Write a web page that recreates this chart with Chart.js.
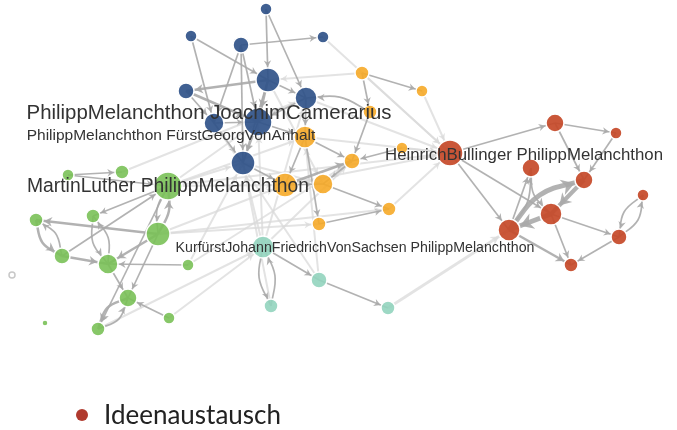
<!DOCTYPE html>
<html>
<head>
<meta charset="utf-8">
<style>
  html, body { margin: 0; padding: 0; background: #fff; }
  #wrap { width: 677px; height: 430px; }
</style>
<script src="https://cdn.jsdelivr.net/npm/chart.js@4/dist/chart.umd.min.js"></script>
</head>
<body>
<div id="wrap"><canvas id="netChart" width="677" height="430"></canvas></div>
<script>
// --- graph data (layout position of every node) ---
const nodeX = [266, 191, 323, 241, 186, 268, 306, 214, 258, 243,
               362, 422, 370, 305, 402, 352, 285, 323, 389, 319,
               450, 555, 616, 531, 584, 643, 551, 509, 619, 571,
               68, 122, 168, 36, 93, 158, 62, 108, 188, 128, 169, 98, 45,
               263, 319, 271, 388,
               12];
const nodeY = [9, 36, 37, 45, 91, 80, 98, 123, 122, 163,
               73, 91, 112, 137, 148, 161, 185, 184, 209, 224,
               153, 123, 133, 168, 180, 195, 214, 230, 237, 265,
               175, 172, 186, 220, 216, 234, 256, 264, 265, 298, 318, 329, 323,
               247, 280, 306, 308,
               275];
const nodeSize = [6, 6, 6, 8, 8, 12, 11, 10, 14, 12,
                  7, 6, 7, 11, 6, 8, 12, 10, 7, 7,
                  13, 9, 6, 9, 9, 6, 11, 11, 8, 7,
                  6, 7, 14, 7, 7, 12, 8, 10, 6, 9, 6, 7, 3,
                  11, 8, 7, 7,
                  3];
const nodeGroup = [0, 0, 0, 0, 0, 0, 0, 0, 0, 0,
                   1, 1, 1, 1, 1, 1, 1, 1, 1, 1,
                   2, 2, 2, 2, 2, 2, 2, 2, 2, 2,
                   3, 3, 3, 3, 3, 3, 3, 3, 3, 3, 3, 3, 3,
                   4, 4, 4, 4,
                   5];

// edges: [from, to, weight, bend]
const edgesInner = [
  [0, 5, 1, 0], [0, 6, 1, 0], [1, 7, 1, 0], [1, 5, 1, 0], [3, 2, 1, 0], [3, 7, 1, 0],
  [3, 8, 1, 0], [5, 4, 2, 0], [4, 7, 1, 0], [4, 8, 2, 0], [5, 8, 2, 0], [5, 6, 1, 0],
  [5, 9, 1, 0], [6, 8, 1, 0], [7, 8, 1, 0], [8, 9, 1, 0], [7, 9, 1, 0], [6, 13, 1, 0],
  [8, 13, 1, 0], [9, 16, 1, 0], [3, 9, 1, 0],
  [10, 11, 1, 0], [10, 12, 1, 0], [12, 15, 1, 0], [13, 15, 1, 0], [13, 16, 1, 0],
  [13, 19, 1, 0], [14, 15, 1, 0], [15, 17, 1, 0], [16, 15, 2, 0], [16, 17, 1, 0],
  [17, 18, 1, 0], [19, 18, 1, 0], [12, 6, 1, 8],
  [20, 21, 1, 0], [20, 27, 1, 0], [20, 26, 1, 0], [21, 22, 1, 0], [21, 24, 1, 0],
  [22, 24, 1, 0], [27, 23, 1, 0], [23, 26, 1, 8], [27, 24, 5, -12], [26, 27, 5, 0],
  [24, 26, 4, 0], [27, 23, 1, 8], [26, 28, 1, 0], [26, 29, 1, 0], [27, 29, 2, 0],
  [28, 29, 1, 0], [28, 25, 1, 8], [25, 28, 1, 8],
  [30, 31, 1, 0], [30, 32, 1, 0], [32, 35, 1, 6], [35, 32, 2, 6], [35, 33, 2, 0],
  [33, 36, 2, 8], [36, 33, 1, 8], [36, 32, 1, 0], [36, 37, 2, 0], [35, 37, 2, 0],
  [34, 37, 1, 8], [37, 34, 1, 8], [38, 37, 1, 0], [35, 39, 1, 0], [32, 41, 1, 0],
  [39, 41, 2, 8], [41, 39, 1, 8], [40, 39, 1, 0], [37, 39, 1, 0], [32, 34, 1, 0],
  [43, 45, 1, 8], [45, 43, 1, 8], [43, 44, 1, 0], [44, 46, 1, 0]
];
const edgesCross = [
  [2, 20, 1, 0], [10, 5, 1, 0], [10, 20, 1, 0], [11, 20, 1, 0], [14, 20, 1, 0],
  [18, 20, 1, 0], [13, 20, 1, 0], [16, 20, 1, 0], [32, 20, 1, 0], [32, 9, 1, 0],
  [32, 8, 1, 0], [32, 13, 1, 0], [32, 16, 1, 0], [40, 43, 1, 0], [38, 9, 1, 0],
  [35, 19, 1, 0], [43, 9, 1, 0], [43, 8, 1, 0], [43, 15, 1, 0], [44, 13, 1, 0],
  [44, 7, 1, 0], [46, 27, 2, 0], [9, 17, 1, 0], [5, 17, 1, 0], [6, 20, 1, 0],
  [41, 43, 1, 0], [35, 16, 1, 0], [31, 6, 1, 0], [43, 6, 1, 0], [45, 9, 1, 0],
  [38, 15, 1, 0], [35, 18, 1, 0]
];

const labelText = [
  'PhilippMelanchthon JoachimCamerarius',
  'PhilippMelanchthon FürstGeorgVonAnhalt',
  'MartinLuther PhilippMelanchthon',
  'HeinrichBullinger PhilippMelanchthon',
  'KurfürstJohannFriedrichVonSachsen PhilippMelanchthon'
];
const labelX = [209, 171, 168, 524, 355];
const labelY = [113, 136, 187, 155, 248];
const labelSize = [20.4, 15.5, 19.3, 16.8, 14.2];

const legendText = 'Ideenaustausch';

const groupColors = ['rgba(50,84,138,0.93)', 'rgba(246,170,40,0.9)', 'rgba(198,74,42,0.93)',
                     'rgba(122,193,88,0.9)', 'rgba(146,212,190,0.9)', '#ffffff'];
const darkEdge = 'rgba(170,170,170,0.9)';
const lightEdge = 'rgba(218,218,218,0.75)';

// --- build datasets ---
function edgeData(e) {
  const a = e[0], b = e[1], bend = e[3];
  const p = [{ x: nodeX[a], y: nodeY[a] }];
  if (bend) {
    const dx = nodeX[b] - nodeX[a], dy = nodeY[b] - nodeY[a];
    const len = Math.sqrt(dx * dx + dy * dy) || 1;
    p.push({ x: (nodeX[a] + nodeX[b]) / 2 - dy / len * bend,
             y: (nodeY[a] + nodeY[b]) / 2 + dx / len * bend });
  }
  p.push({ x: nodeX[b], y: nodeY[b] });
  return p;
}
const edgeWidth = w => 0.9 + w * 0.8;

const datasets = [];
edgesCross.forEach(e => datasets.push({
  type: 'line', data: edgeData(e), borderColor: lightEdge,
  borderWidth: edgeWidth(e[2]) + 0.3, pointRadius: 0, tension: 0.4, order: 3
}));
edgesInner.forEach(e => datasets.push({
  type: 'line', data: edgeData(e), borderColor: darkEdge,
  borderWidth: edgeWidth(e[2]), pointRadius: 0, tension: 0.4, order: 2
}));
for (let g = 0; g < groupColors.length; g++) {
  const pts = [];
  nodeX.forEach((x, i) => { if (nodeGroup[i] === g) pts.push({ x: x, y: nodeY[i], r: nodeSize[i] }); });
  datasets.push({
    type: 'bubble', data: pts, backgroundColor: groupColors[g],
    borderColor: g === 5 ? '#c8c8c8' : '#ffffff', borderWidth: 1.5, order: 1
  });
}

// arrow heads at the target end of each edge
const arrowPlugin = {
  id: 'arrows',
  beforeDatasetsDraw(chart) {
    const ctx = chart.ctx;
    const sx = chart.scales.x, sy = chart.scales.y;
    function draw(list, color) {
      ctx.fillStyle = color;
      list.forEach(e => {
        const pts = edgeData(e);
        const from = pts[pts.length - 2], to = pts[pts.length - 1];
        const x0 = sx.getPixelForValue(from.x), y0 = sy.getPixelForValue(from.y);
        const x1 = sx.getPixelForValue(to.x), y1 = sy.getPixelForValue(to.y);
        const len = Math.hypot(x1 - x0, y1 - y0) || 1;
        const ux = (x1 - x0) / len, uy = (y1 - y0) / len;
        const r = nodeSize[e[1]] + 1;
        const tx = x1 - ux * r, ty = y1 - uy * r;
        const al = 5 + e[2] * 1.6, aw = 2.6 + e[2] * 1.1;
        ctx.beginPath();
        ctx.moveTo(tx, ty);
        ctx.lineTo(tx - ux * al - uy * aw, ty - uy * al + ux * aw);
        ctx.lineTo(tx - ux * al * 0.7, ty - uy * al * 0.7);
        ctx.lineTo(tx - ux * al + uy * aw, ty - uy * al - ux * aw);
        ctx.closePath();
        ctx.fill();
      });
    }
    ctx.save();
    draw(edgesCross, lightEdge);
    draw(edgesInner, darkEdge);
    ctx.restore();
  }
};

// labels + legend
const textPlugin = {
  id: 'netText',
  afterDatasetsDraw(chart) {
    const ctx = chart.ctx;
    const sx = chart.scales.x, sy = chart.scales.y;
    ctx.save();
    ctx.fillStyle = '#333';
    ctx.textAlign = 'center';
    ctx.textBaseline = 'middle';
    labelText.forEach((t, i) => {
      ctx.font = labelSize[i] + 'px "Liberation Sans", Arial, sans-serif';
      ctx.fillText(t, sx.getPixelForValue(labelX[i]), sy.getPixelForValue(labelY[i]));
    });
    ctx.fillStyle = '#b03a2e';
    ctx.beginPath();
    ctx.arc(82, 415, 6, 0, Math.PI * 2);
    ctx.fill();
    ctx.fillStyle = '#222';
    ctx.textAlign = 'left';
    ctx.font = '26px Lato, sans-serif';
    ctx.fillText(legendText, 104, 416);
    ctx.restore();
  }
};

new Chart(document.getElementById('netChart').getContext('2d'), {
  type: 'bubble',
  data: { datasets: datasets },
  options: {
    responsive: false,
    devicePixelRatio: 1,
    animation: false,
    events: [],
    layout: { padding: 0, autoPadding: false },
    scales: {
      x: { type: 'linear', min: 0, max: 677, display: false },
      y: { type: 'linear', min: 0, max: 430, reverse: true, display: false }
    },
    plugins: { legend: { display: false }, tooltip: { enabled: false } },
    clip: false
  },
  plugins: [arrowPlugin, textPlugin]
});
</script>
</body>
</html>
